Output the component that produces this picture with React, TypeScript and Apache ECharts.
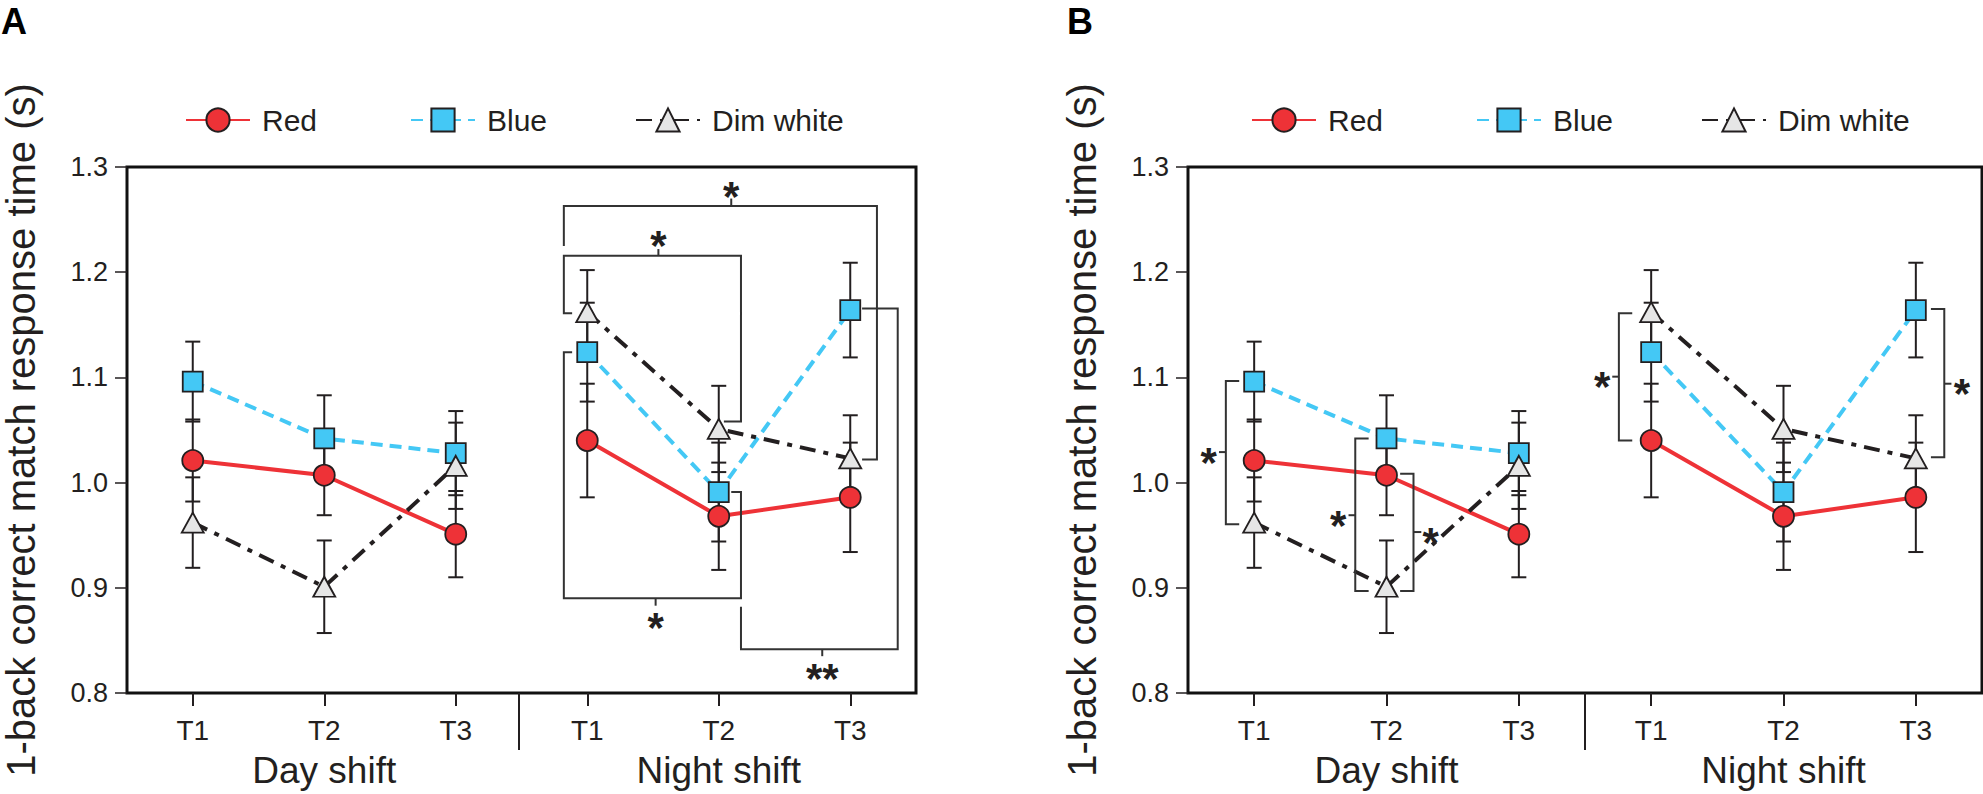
import React, { useEffect, useRef } from 'react';
import * as echarts from 'echarts';

const categories = ['T1', 'T2', 'T3', 'T1', 'T2', 'T3'];
const shifts = ['Day shift', 'Night shift'];
const panelLabels = ['A', 'B'];
const yAxisTitle = '1-back correct match response time (s)';
const seriesNames = ['Red', 'Blue', 'Dim white'];

const redMean = [1.021, 1.007, 0.951, 1.04, 0.968, 0.986];
const redErr = [0.039, 0.038, 0.041, 0.054, 0.051, 0.052];
const blueMean = [1.096, 1.042, 1.028, 1.124, 0.991, 1.164];
const blueErr = [0.038, 0.041, 0.04, 0.047, 0.047, 0.045];
const whiteMean = [0.962, 0.901, 1.016, 1.162, 1.051, 1.023];
const whiteErr = [0.043, 0.044, 0.041, 0.04, 0.041, 0.041];

// significance brackets: points as [category position, response time]
type Bracket = { lines: number[][][]; star: number[]; text: string };
const bracketsA: Bracket[] = [
  {
    lines: [
      [[2.822, 1.225], [2.822, 1.263], [5.203, 1.263], [5.203, 1.022], [5.09, 1.022]],
      [[4.095, 1.263], [4.095, 1.27]],
    ],
    star: [4.095, 1.282],
    text: '*',
  },
  {
    lines: [
      [[2.885, 1.161], [2.822, 1.161], [2.822, 1.2156], [4.169, 1.2156], [4.169, 1.058], [4.039, 1.058]],
      [[3.541, 1.2156], [3.541, 1.222]],
    ],
    star: [3.541, 1.235],
    text: '*',
  },
  {
    lines: [
      [[2.885, 1.124], [2.822, 1.124], [2.822, 0.89], [4.169, 0.89], [4.169, 0.991], [4.095, 0.991]],
      [[3.52, 0.89], [3.52, 0.883]],
    ],
    star: [3.52, 0.872],
    text: '*',
  },
  {
    lines: [
      [[4.169, 0.882], [4.169, 0.8417], [5.361, 0.8417], [5.361, 1.1654], [5.09, 1.1654]],
      [[4.787, 0.8417], [4.787, 0.835]],
    ],
    star: [4.787, 0.823],
    text: '**',
  },
];
const bracketsB: Bracket[] = [
  {
    lines: [
      [[-0.113, 1.0966], [-0.214, 1.0966], [-0.214, 0.9603], [-0.113, 0.9603]],
      [[-0.214, 1.029], [-0.266, 1.029]],
    ],
    star: [-0.344, 1.029],
    text: '*',
  },
  {
    lines: [
      [[0.865, 1.042], [0.764, 1.042], [0.764, 0.897], [0.865, 0.897]],
      [[0.764, 0.969], [0.713, 0.969]],
    ],
    star: [0.634, 0.969],
    text: '*',
  },
  {
    lines: [
      [[1.103, 1.0085], [1.204, 1.0085], [1.204, 0.897], [1.103, 0.897]],
      [[1.204, 0.953], [1.263, 0.953]],
    ],
    star: [1.334, 0.953],
    text: '*',
  },
  {
    lines: [
      [[2.857, 1.161], [2.756, 1.161], [2.756, 1.04], [2.857, 1.04]],
      [[2.756, 1.1007], [2.706, 1.1007]],
    ],
    star: [2.63, 1.1007],
    text: '*',
  },
  {
    lines: [
      [[5.114, 1.165], [5.215, 1.165], [5.215, 1.024], [5.114, 1.024]],
      [[5.215, 1.094], [5.269, 1.094]],
    ],
    star: [5.349, 1.094],
    text: '*',
  },
];

const FONT = '"Liberation Sans", Arial, Helvetica, sans-serif';
const DARK = '#231F20';
const RED = '#EE3237';
const BLUE = '#44C8F5';
const GREY = '#E6E6E6';

const GRID_LEFT = [122, 1188];
const GRID_TOP = 167;
const GRID_W = 794;
const GRID_H = 526;
const LEGEND_LEFT = [185, 410, 635];
const STAR_SIZE = 42;

// split a 6-point series into the day (first 3) and night (last 3) segments
function segment(values: number[], night: boolean): (number | string)[] {
  return values.map((v, i) => ((i >= 3) === night ? v : '-'));
}

function buildOption() {
  const grids = GRID_LEFT.map((left) => ({
    left,
    top: GRID_TOP,
    width: GRID_W,
    height: GRID_H,
    show: true,
    borderColor: '#111',
    borderWidth: 3,
    backgroundColor: 'transparent',
  }));

  const xAxes: any[] = [];
  const yAxes: any[] = [];
  const series: any[] = [];
  const legends: any[] = [];
  const graphics: any[] = [];

  const means = [redMean, blueMean, whiteMean];
  const errs = [redErr, blueErr, whiteErr];
  const styles = [
    {
      symbol: 'circle',
      symbolSize: 21,
      lineStyle: { color: RED, width: 4 },
      itemStyle: { color: RED, borderColor: DARK, borderWidth: 1.8 },
    },
    {
      symbol: 'rect',
      symbolSize: 20,
      lineStyle: { color: BLUE, width: 4, type: [12, 7] },
      itemStyle: { color: BLUE, borderColor: DARK, borderWidth: 1.8 },
    },
    {
      symbol: 'triangle',
      symbolSize: [22, 20],
      lineStyle: { color: DARK, width: 4, type: [16, 8, 5, 8] },
      itemStyle: { color: GREY, borderColor: DARK, borderWidth: 1.8 },
    },
  ];

  GRID_LEFT.forEach((left, g) => {
    xAxes.push({
      type: 'category',
      gridIndex: g,
      data: categories,
      position: 'bottom',
      boundaryGap: true,
      axisLine: { show: false, onZero: false },
      axisTick: { show: true, alignWithLabel: true, length: 13, lineStyle: { color: DARK, width: 2 } },
      axisLabel: { fontSize: 28, fontFamily: FONT, color: DARK, margin: 23 },
      splitLine: { show: false },
    });
    xAxes.push({
      type: 'category',
      gridIndex: g,
      data: shifts,
      position: 'bottom',
      axisLine: { show: false, onZero: false },
      axisTick: { show: false },
      axisLabel: { fontSize: 37, fontFamily: FONT, color: DARK, margin: 59 },
      splitLine: { show: false },
    });
    xAxes.push({
      type: 'value',
      gridIndex: g,
      show: false,
      min: -0.5,
      max: 5.5,
      axisLine: { onZero: false },
    });
    yAxes.push({
      type: 'value',
      gridIndex: g,
      min: 0.8,
      max: 1.3,
      interval: 0.1,
      name: yAxisTitle,
      nameLocation: 'middle',
      nameGap: 86,
      nameTextStyle: { fontSize: 40, fontFamily: FONT, color: DARK },
      axisLine: { show: false, onZero: false },
      axisTick: { show: true, length: 12, lineStyle: { color: DARK, width: 1.5 } },
      axisLabel: {
        fontSize: 27,
        fontFamily: FONT,
        color: DARK,
        margin: 19,
        formatter: (v: number) => v.toFixed(1),
      },
      splitLine: { show: false },
    });

    // error bars
    means.forEach((m, k) => {
      const e = errs[k];
      series.push({
        type: 'custom',
        name: seriesNames[k] + ' SE',
        xAxisIndex: g * 3,
        yAxisIndex: g,
        z: 2,
        silent: true,
        data: m.map((v, i) => [i, v, e[i]]),
        renderItem: (params: any, api: any) => {
          const i = api.value(0);
          const v = api.value(1);
          const se = api.value(2);
          const top = api.coord([i, v + se]);
          const bot = api.coord([i, v - se]);
          const hw = 7.5;
          const style = { stroke: DARK, lineWidth: 2 };
          return {
            type: 'group',
            children: [
              { type: 'line', shape: { x1: top[0], y1: top[1], x2: bot[0], y2: bot[1] }, style },
              { type: 'line', shape: { x1: top[0] - hw, y1: top[1], x2: top[0] + hw, y2: top[1] }, style },
              { type: 'line', shape: { x1: bot[0] - hw, y1: bot[1], x2: bot[0] + hw, y2: bot[1] }, style },
            ],
          };
        },
      });
    });

    // mean lines, day and night segments drawn separately
    [false, true].forEach((night) => {
      means.forEach((m, k) => {
        series.push({
          name: seriesNames[k],
          type: 'line',
          xAxisIndex: g * 3,
          yAxisIndex: g,
          data: segment(m, night),
          z: 3,
          connectNulls: false,
          emphasis: { disabled: true },
          ...styles[k],
        });
      });
    });

    const brackets = g === 0 ? bracketsA : bracketsB;
    series.push({
      type: 'custom',
      name: 'brackets',
      xAxisIndex: g * 3 + 2,
      yAxisIndex: g,
      z: 4,
      silent: true,
      clip: false,
      data: brackets.map((b, i) => [i, 1.0]),
      renderItem: (params: any, api: any) => {
        const b = brackets[params.dataIndex];
        const children: any[] = b.lines.map((pl) => ({
          type: 'polyline',
          shape: { points: pl.map((p) => api.coord(p)) },
          style: { stroke: '#333', lineWidth: 2, fill: null },
        }));
        const sp = api.coord(b.star);
        children.push({
          type: 'text',
          x: sp[0],
          y: sp[1] + STAR_SIZE * 0.24,
          style: {
            text: b.text,
            fontSize: STAR_SIZE,
            fontWeight: 'bold',
            fontFamily: FONT,
            fill: DARK,
            align: 'center',
            verticalAlign: 'middle',
          },
        });
        return { type: 'group', children };
      },
    });

    seriesNames.forEach((name, k) => {
      legends.push({
        data: [name],
        left: LEGEND_LEFT[k] + (left - GRID_LEFT[0]),
        top: 105,
        padding: 0,
        itemWidth: 64,
        itemHeight: 29,
        selectedMode: false,
        textStyle: { fontSize: 30, fontFamily: FONT, color: DARK, padding: [0, 0, 0, 7] },
      });
    });

    const sepX = left + GRID_W / 2;
    graphics.push({
      type: 'line',
      shape: { x1: sepX, y1: GRID_TOP + GRID_H, x2: sepX, y2: GRID_TOP + GRID_H + 57 },
      style: { stroke: DARK, lineWidth: 2 },
    });
    graphics.push({
      type: 'text',
      x: left - GRID_LEFT[0] + 1,
      y: 21,
      style: {
        text: panelLabels[g],
        fontSize: 36,
        fontWeight: 'bold',
        fontFamily: FONT,
        fill: '#000',
        align: 'left',
        verticalAlign: 'middle',
      },
    });
  });

  return {
    animation: false,
    backgroundColor: '#ffffff',
    grid: grids,
    xAxis: xAxes,
    yAxis: yAxes,
    legend: legends,
    series,
    graphic: graphics,
  };
}

export default function App() {
  const ref = useRef<HTMLDivElement>(null);
  useEffect(() => {
    if (!ref.current) return;
    const chart = echarts.init(ref.current, undefined, { renderer: 'svg' });
    chart.setOption(buildOption() as any);
    return () => chart.dispose();
  }, []);
  return (
    <div
      ref={ref}
      style={{ position: 'absolute', left: 0, top: 0, width: 1983, height: 794, background: '#fff' }}
    />
  );
}
